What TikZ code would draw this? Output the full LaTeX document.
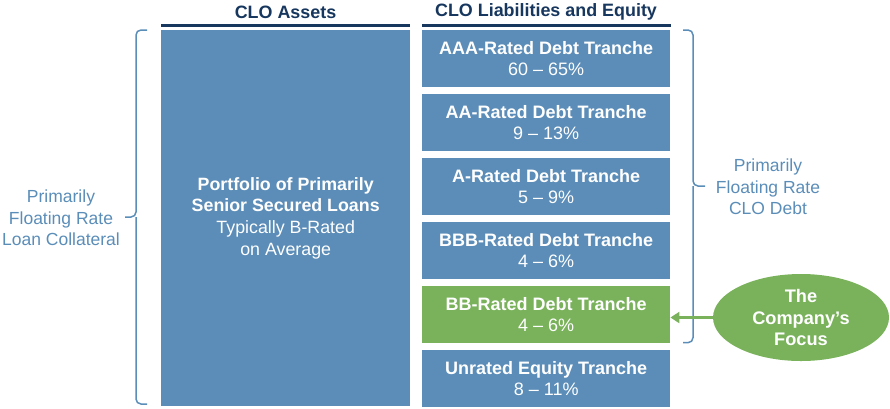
\documentclass[tikz,border=0pt]{standalone}
\usepackage{fontspec}
\setmainfont{Liberation Sans}
\usetikzlibrary{arrows.meta,shapes.geometric}
\definecolor{boxblue}{HTML}{5B8DB8}
\definecolor{lblue}{HTML}{5A8DB8}
\definecolor{navy}{HTML}{17375E}
\definecolor{focgreen}{HTML}{79B25A}
\tikzset{
  hdr/.style={font=\fontsize{17.9}{21}\selectfont\bfseries, text=navy, inner sep=0pt},
  hline/.style={draw=navy, line width=3.6pt},
  tranche/.style={fill=boxblue, draw=none, minimum width=248pt, minimum height=56.7pt, anchor=north west, inner sep=0pt, text=white, align=center, font=\fontsize{18}{21.3}\selectfont},
  assetbox/.style={fill=boxblue, draw=none, minimum width=249pt, minimum height=376pt, anchor=north west, inner sep=0pt, text=white, align=center, font=\fontsize{17.8}{21.7}\selectfont},
  sidelabel/.style={text=lblue, align=center, font=\fontsize{17.5}{21.3}\selectfont, inner sep=0pt},
  bracepath/.style={draw=lblue, line width=1.5pt, rounded corners=5pt},
  focus/.style={ellipse, fill=focgreen, draw=none, minimum width=176pt, minimum height=87pt, inner sep=0pt, text=white, align=center, font=\fontsize{18.2}{21.5}\selectfont\bfseries},
  focusarrow/.style={draw=focgreen, line width=3pt, -{Triangle[length=9pt,width=11pt]}}
}
\begin{document}
\begin{tikzpicture}[x=1pt,y=-1pt]
\useasboundingbox (0,0) rectangle (890,408);
% headers
\node[hdr] (hassets) at (285.5,12) {CLO Assets};
\node[hdr] (hliab) at (546,12) {CLO Liabilities and Equity};
\draw[hline] (161,25.5) -- (410,25.5);
\draw[hline] (422,25.5) -- (671,25.5);
% assets
\node[assetbox] (assets) at (161,30) {\textbf{Portfolio of Primarily}\\\textbf{Senior Secured Loans}\\Typically B-Rated\\on Average};
% tranches
\node[tranche] (aaa) at (422,30) {\textbf{AAA-Rated Debt Tranche}\\60 – 65\%};
\node[tranche] (aa) at (422,94) {\textbf{AA-Rated Debt Tranche}\\9 – 13\%};
\node[tranche] (a) at (422,158) {\textbf{A-Rated Debt Tranche}\\5 – 9\%};
\node[tranche] (bbb) at (422,222) {\textbf{BBB-Rated Debt Tranche}\\4 – 6\%};
\node[tranche, fill=focgreen] (bb) at (422,286) {\textbf{BB-Rated Debt Tranche}\\4 – 6\%};
\node[tranche] (eq) at (422,350) {\textbf{Unrated Equity Tranche}\\8 – 11\%};
% left brace
\draw[bracepath] (147,30) -- (136,30) -- (136,217) -- (125,217);
\draw[bracepath] (147,404) -- (136,404) -- (136,217);
\node[sidelabel] (lcoll) at (61,218) {Primarily\\Floating Rate\\Loan Collateral};
% right brace
\draw[bracepath] (683,30) -- (693,30) -- (693,186) -- (705,186);
\draw[bracepath] (683,342.7) -- (693,342.7) -- (693,186);
\node[sidelabel] (rdebt) at (768,187) {Primarily\\Floating Rate\\CLO Debt};
% focus
\node[focus] (foc) at (801,317.5) {The\\Company’s\\Focus};
\draw[focusarrow] (foc.west) -- (bb.east |- foc.west);
\end{tikzpicture}
\end{document}
